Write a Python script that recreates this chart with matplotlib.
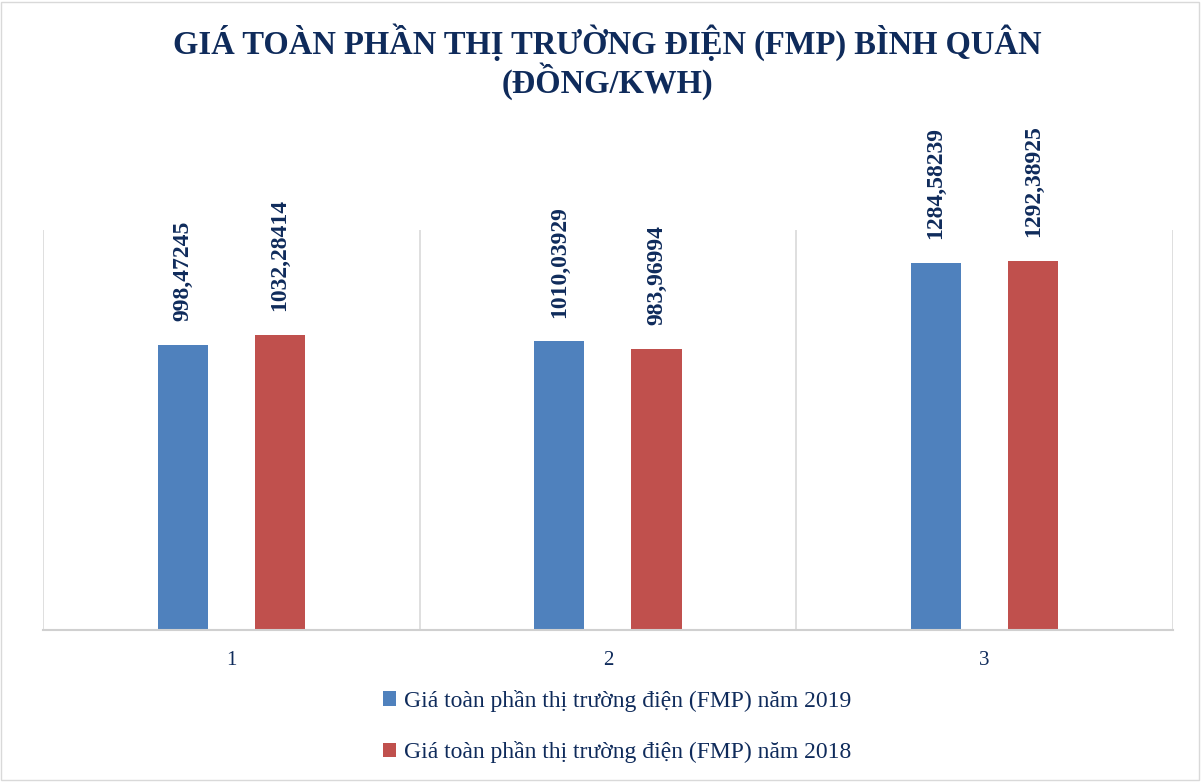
import numpy as np
import matplotlib.pyplot as plt
from matplotlib.patches import Patch, Rectangle

categories = ["1", "2", "3"]
fmp_2019 = [998.47245, 1010.03929, 1284.58239]
fmp_2018 = [1032.28414, 983.96994, 1292.38925]
labels_2019 = ["998,47245", "1010,03929", "1284,58239"]
labels_2018 = ["1032,28414", "983,96994", "1292,38925"]
series_names = ["Giá toàn phần thị trường điện (FMP) năm 2019",
                "Giá toàn phần thị trường điện (FMP) năm 2018"]

blue = "#4F81BD"
red = "#C0504D"
navy = "#0F2B5B"

plt.rcParams["font.family"] = ["Liberation Serif", "DejaVu Serif"]

fig = plt.figure(figsize=(12.03, 7.83), dpi=100)
ax = fig.add_axes([0.0357, 0.1954, 0.9393, 0.5109])

x = np.arange(1, len(categories) + 1)
off = 0.129
w = 0.133
b1 = ax.bar(x - off, fmp_2019, width=w, color=blue)
b2 = ax.bar(x + off, fmp_2018, width=w, color=red)

# rotated value labels above each bar
for bars, labs in ((b1, labels_2019), (b2, labels_2018)):
    for rect, lab in zip(bars, labs):
        ax.annotate(lab, (rect.get_x() + rect.get_width() / 2, rect.get_height()),
                    xytext=(0, 17), textcoords="offset points", rotation=90,
                    ha="center", va="bottom", fontsize=17, fontweight="bold",
                    color=navy)

ax.set_xlim(0.5, 3.5)
ax.set_ylim(0, 1400)
ax.set_yticks([])
ax.set_xticks(x)
ax.set_xticklabels(categories, fontsize=15, color=navy)
ax.tick_params(axis="x", length=0, pad=15)
for gx in [0.5, 1.5, 2.5, 3.5]:
    ax.axvline(gx, color="#D9D9D9", linewidth=1.2, zorder=0)
for s in ["top", "right", "left"]:
    ax.spines[s].set_visible(False)
ax.spines["bottom"].set_color("#D0D0D0")
ax.spines["bottom"].set_linewidth(1.5)

fig.text(0.505, 0.946, "GIÁ TOÀN PHẦN THỊ TRƯỜNG ĐIỆN (FMP) BÌNH QUÂN",
         ha="center", va="center", fontsize=23.5, fontweight="bold", color=navy)
fig.text(0.505, 0.897, "(ĐỒNG/KWH)",
         ha="center", va="center", fontsize=23.5, fontweight="bold", color=navy)

handles = [Patch(facecolor=blue), Patch(facecolor=red)]
fig.legend(handles, series_names, loc="center", bbox_to_anchor=(0.513, 0.072),
           ncol=1, frameon=False, fontsize=17, labelcolor=navy,
           handlelength=0.55, handleheight=0.55, handletextpad=0.3,
           labelspacing=1.25)

fig.patches.append(Rectangle((0.001, 0.004), 0.996, 0.994, transform=fig.transFigure,
                             fill=False, edgecolor="#D9D9D9", linewidth=1))

fig.savefig("out.png", dpi=100)
